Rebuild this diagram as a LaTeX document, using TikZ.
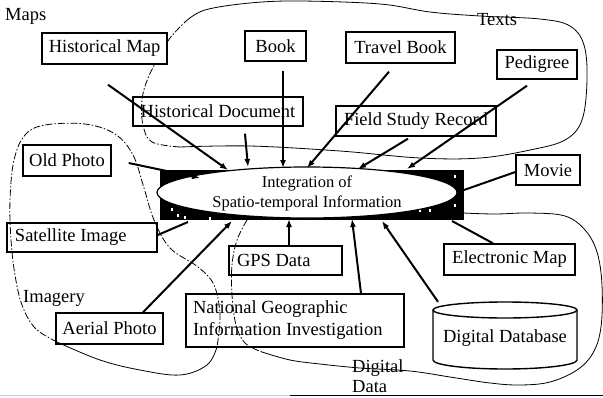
\documentclass[tikz,border=0pt]{standalone}
\usepackage{fontspec}
\setmainfont{Liberation Serif}
\usetikzlibrary{arrows.meta,shapes.geometric}
\begin{document}
\begin{tikzpicture}[x=1pt,y=-1pt,
  box/.style={draw, line width=1.4pt, inner sep=0pt, font=\fontsize{18.5}{22}\selectfont},
  lbl/.style={inner sep=0pt, font=\fontsize{18.5}{22}\selectfont},
  arr/.style={line width=2pt, -{Latex[length=8pt,width=6pt]}},
  ln/.style={line width=2pt},
  region/.style={line width=0.8pt},
  regiondash/.style={line width=0.8pt, dash pattern=on 7pt off 2pt on 1.5pt off 2pt}]
\useasboundingbox (0,0) rectangle (603,397);
\fill[white] (0,0) rectangle (603,397);

% ---- region outlines ----
% Texts
\draw[region] plot[smooth, tension=0.6] coordinates {(185,22) (205,10) (250,3) (300,1) (380,4) (430,12) (480,16) (540,19) (570,26) (584,45) (587,80) (582,120) (565,140) (530,150) (480,158) (420,158) (340,151) (250,146) (180,147)};
\draw[regiondash] plot[smooth, tension=0.6] coordinates {(180,147) (152,142) (143,125) (142,100) (148,78) (160,55) (170,38) (185,22)};
% Imagery
\draw[regiondash] plot[smooth, tension=0.6] coordinates {(57,342) (35,328) (22,305) (15,275) (11,240) (10,200) (14,160) (25,135) (45,125) (85,124) (115,134) (133,155) (144,188) (154,220) (170,248) (198,267) (214,285) (220,315) (217,347)};
\draw[region] plot[smooth, tension=0.6] coordinates {(217,347) (207,365) (180,375) (140,370) (100,360) (57,342)};
% Digital Data
\draw[regiondash] plot[smooth, tension=0.6] coordinates {(247,220) (237,240) (232,265) (232,295) (236,325) (245,343) (262,352)};
\draw[region] plot[smooth, tension=0.6] coordinates {(262,352) (290,360) (320,364) (360,368) (410,371) (450,377) (490,383) (520,385) (550,382) (577,370) (593,353) (601,327) (602,285) (597,252) (585,230) (565,216) (530,213) (495,214) (463,213)};

% ---- centre ----
\node[fill=black, minimum width=304pt, minimum height=50pt, inner sep=0pt] (blk) at (312,195) {};
\foreach \p in {(171,208),(177,214),(184,216),(209,217),(419,209),(429,209),(454,175),(454,204)}
  \fill[white] \p rectangle ++(2.2,2.5);
\node[ellipse, draw, line width=1.2pt, fill=white, minimum width=300pt, minimum height=51pt, inner sep=0pt] (integ) at (307,192.5) {};
\node[inner sep=0pt, align=center, font=\fontsize{16.5}{20}\selectfont] (integT) at (307,193) {Integration of\\Spatio-temporal Information};

% ---- boxes ----
\node[box, fill=white, minimum width=125pt, minimum height=31pt] (hmap) at (104.5,48.5) {Historical Map};
\node[box, minimum width=61pt, minimum height=30pt] (book) at (275.5,46) {Book};
\node[box, minimum width=109pt, minimum height=31pt] (tbook) at (400.5,47.5) {Travel Book};
\node[box, minimum width=80pt, minimum height=29pt] (ped) at (537,64.5) {Pedigree};
\node[box, minimum width=170pt, minimum height=29pt] (hdoc) at (218,111.5) {Historical Document};
\node[box, minimum width=160pt, minimum height=30pt] (fsr) at (416,121) {Field Study Record};
\node[box, minimum width=88pt, minimum height=31pt] (ophoto) at (67,160.5) {Old Photo};
\node[box, minimum width=64pt, minimum height=30pt] (movie) at (548,170) {Movie};
\node[box, minimum width=150pt, minimum height=29pt, inner xsep=8pt, text width=134pt, align=flush left] (sat) at (82,237.5) {Satellite Image};
\node[box, minimum width=113pt, minimum height=29pt, inner xsep=8pt, text width=97pt, align=flush left] (gps) at (285.5,260.5) {GPS Data};
\node[box, minimum width=218pt, minimum height=53pt, inner xsep=7pt, text width=204pt, align=flush left] (ngi) at (295,320.5) {National Geographic\\Information Investigation};
\node[box, minimum width=107pt, minimum height=31pt] (aerial) at (109.5,328.5) {Aerial Photo};
\node[box, minimum width=131pt, minimum height=31pt] (emap) at (509.5,259.5) {Electronic Map};
% database cylinder
\draw[line width=1.4pt] (433,310) -- (433,360) arc[start angle=180, end angle=360, x radius=72pt, y radius=9pt] -- (577,310);
\draw[line width=1.4pt] (505,310) ellipse [x radius=72pt, y radius=8pt];
\node[lbl, minimum width=144pt, minimum height=60pt] (ddb) at (505,338) {Digital Database};

% ---- region labels ----
\node[lbl, anchor=base west] (lmaps) at (5,20) {Maps};
\node[lbl, anchor=base west] (ltexts) at (477,25) {Texts};
\node[lbl, anchor=base west] (limag) at (23,302) {Imagery};
\node[lbl, anchor=base west] (ldig) at (352,372) {Digital};
\node[lbl, anchor=base west] (ldata) at (352,392) {Data};

% ---- connectors ----
\coordinate (t1) at (228,170);
\coordinate (t2) at (248,167);
\coordinate (t3) at (283,168);
\coordinate (t4) at (307,168);
\coordinate (t5) at (358,169);
\coordinate (t6) at (407,169);
\coordinate (t7) at (200,178);
\coordinate (t8) at (464,190);
\coordinate (t9) at (188,222);
\coordinate (t10) at (232,221);
\coordinate (t11) at (289,219);
\coordinate (t12) at (352,219);
\coordinate (t13) at (382,221);
\coordinate (t14) at (452,221);
\draw[arr] ([xshift=3.5pt,yshift=-20pt]hmap.south) -- (t1);
\draw[arr] ([xshift=27pt,yshift=-7pt]hdoc.south) -- (t2);
\draw[arr] ([xshift=7.5pt,yshift=-9pt]book.south) -- (t3);
\draw[arr] ([xshift=-11.5pt,yshift=-8pt]tbook.south) -- (t4);
\draw[arr] ([xshift=-8pt,yshift=-2pt]fsr.south) -- (t5);
\draw[arr] ([xshift=-10pt,yshift=-6pt]ped.south) -- (t6);
\draw[arr] ([xshift=17pt,yshift=-2.5pt]ophoto.east) -- (t7);
\draw[ln] ([yshift=-2pt]movie.west) -- (t8);
\draw[ln] ([yshift=2.5pt]sat.east) -- (t9);
\draw[arr] ([xshift=33.5pt]aerial.north) -- (t10);
\draw[arr] ([xshift=3.5pt]gps.north) -- (t11);
\draw[arr] ([xshift=66pt]ngi.north) -- (t12);
\draw[arr] ([xshift=-67pt,yshift=6pt]ddb.north) -- (t13);
\draw[ln] ([xshift=-16.5pt]emap.north) -- (t14);

% bottom rule of the page
\draw[gray!40, line width=1pt] (0,395.5) -- (290,395.5);
\draw[line width=1.2pt] (290,395.5) -- (603,395.5);
\end{tikzpicture}
\end{document}
